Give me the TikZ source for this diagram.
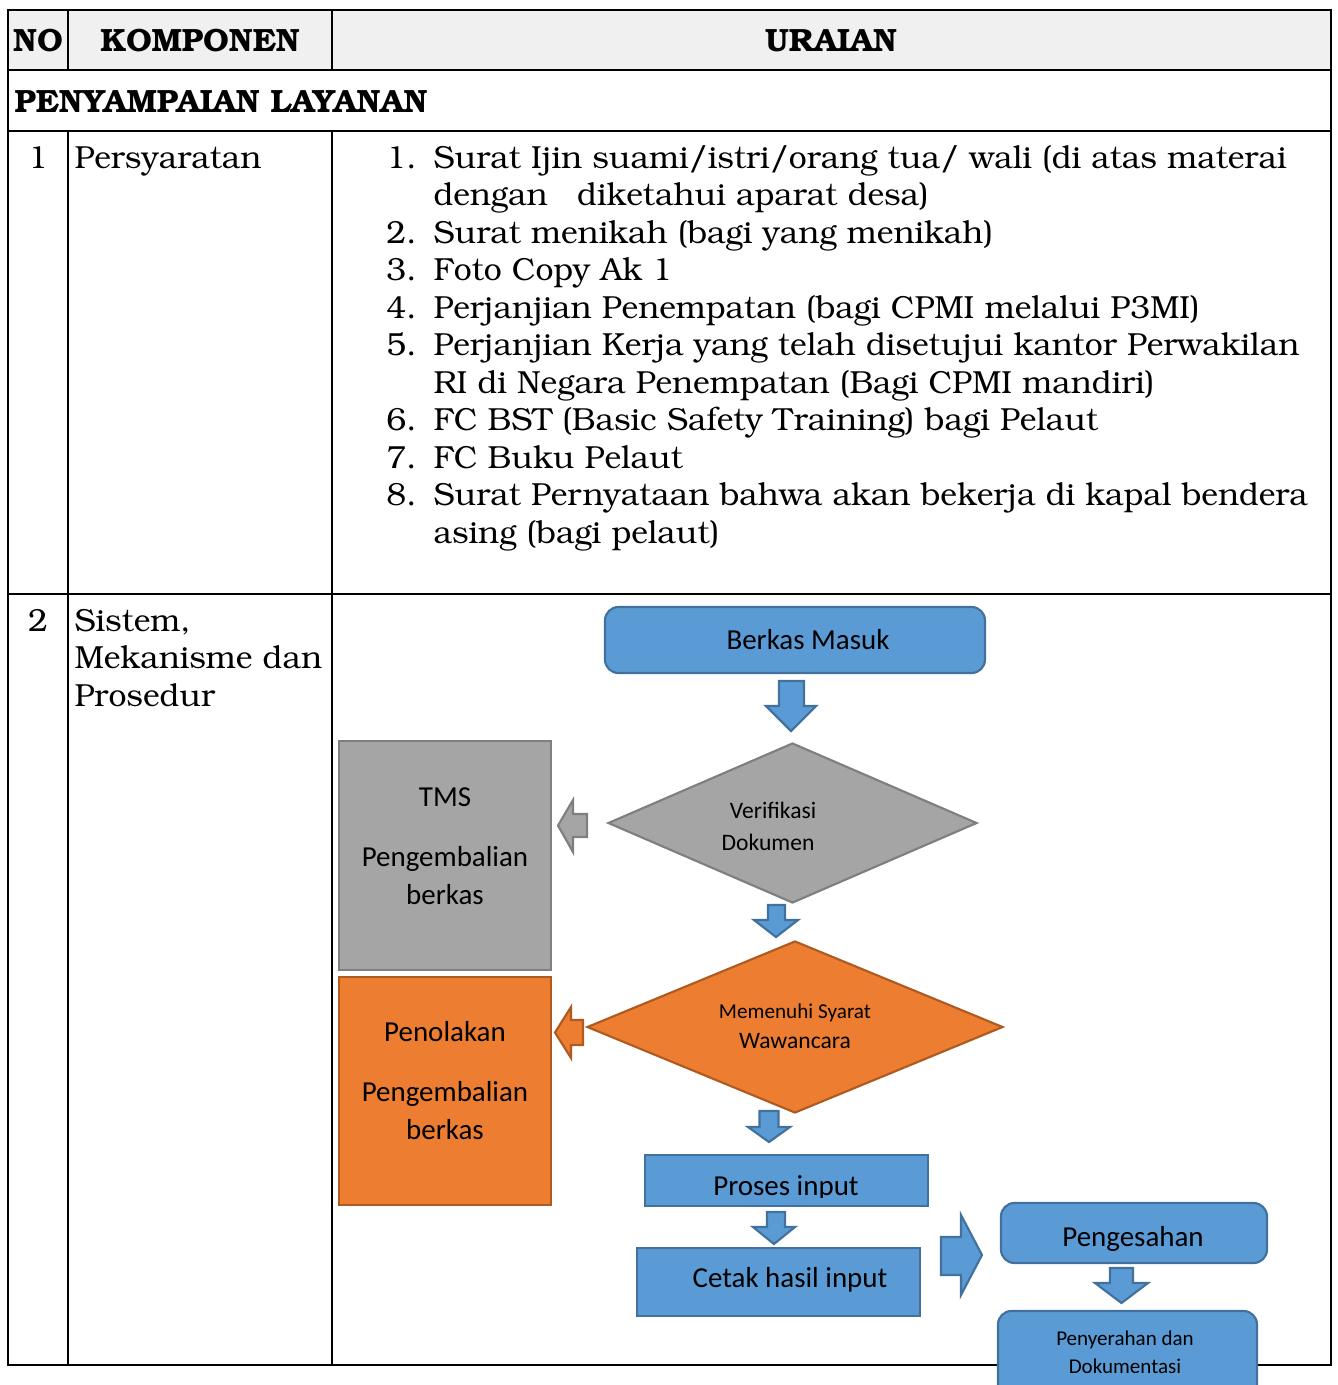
\documentclass[tikz,border=0pt]{standalone}
\usepackage[T1]{fontenc}
\usepackage{fontspec}
\usetikzlibrary{shapes.geometric}
\newfontfamily\carlito{Carlito}
\newcommand\bk{\fontencoding{T1}\fontfamily{pbk}\selectfont}
\newcommand\pxu{0.373pt}
\definecolor{headgray}{HTML}{F0F0F0}
\definecolor{boxblue}{HTML}{5B9BD5}
\definecolor{lineblue}{HTML}{41719C}
\definecolor{boxgray}{HTML}{A5A5A5}
\definecolor{linegray}{HTML}{7F7F7F}
\definecolor{boxorange}{HTML}{ED7D31}
\definecolor{lineorange}{HTML}{AE5A21}
\tikzset{
  tbl/.style={line width=0.8pt},
  txt/.style={inner sep=0pt,font=\bk\fontsize{11.9}{14}\selectfont},
  hd/.style={inner sep=0pt,font=\bk\bfseries\fontsize{12}{14}\selectfont},
  fc/.style={inner sep=0pt,font=\carlito\fontsize{10.8}{14.5}\selectfont,align=center},
  fcsmall/.style={inner sep=0pt,font=\carlito\fontsize{8.8}{12}\selectfont,align=center},
  bluebox/.style={draw=lineblue,fill=boxblue,line width=0.8pt},
  graybox/.style={draw=linegray,fill=boxgray,line width=0.8pt},
  orangebox/.style={draw=lineorange,fill=boxorange,line width=0.8pt},
  barrow/.style={draw=lineblue,fill=boxblue,line width=0.8pt,line join=miter},
  garrow/.style={draw=linegray,fill=boxgray,line width=0.8pt,line join=miter},
  oarrow/.style={draw=lineorange,fill=boxorange,line width=0.8pt,line join=miter},
}
\begin{document}
\begin{tikzpicture}[x=0.373pt,y=-0.373pt]
\useasboundingbox (0,0) rectangle (1338,1385);
% table
\fill[headgray] (8,10) rectangle (1331,70);
\draw[tbl] (8,10) rectangle (1331,1365);
\draw[tbl] (8,70) -- (1331,70);
\draw[tbl] (8,131) -- (1331,131);
\draw[tbl] (8,594) -- (1331,594);
\draw[tbl] (68,10) -- (68,70);
\draw[tbl] (332,10) -- (332,70);
\draw[tbl] (68,131) -- (68,1365);
\draw[tbl] (332,131) -- (332,1365);
\node[hd,anchor=base] (hNo) at (38,51) {NO};
\node[hd,anchor=base] (hKomp) at (200,51) {KOMPONEN};
\node[hd,anchor=base] (hUraian) at (831,51) {URAIAN};
\node[hd,anchor=base west] (sect) at (14,112) {PENYAMPAIAN LAYANAN};
% row 1
\node[txt,anchor=base] (no1) at (38,168) {1};
\node[txt,anchor=base west] (komp1) at (74,168) {Persyaratan};
\node[txt,anchor=base east] (n1) at (417,168) {1.};
\node[txt,anchor=base west] (s1a) at (433,168) {Surat Ijin suami/istri/orang tua/ wali (di atas materai};
\node[txt,anchor=base west] (s1b) at (433,205.5) {dengan\hspace{11pt}diketahui aparat desa)};
\node[txt,anchor=base east] (n2) at (417,243) {2.};
\node[txt,anchor=base west] (s2) at (433,243) {Surat menikah (bagi yang menikah)};
\node[txt,anchor=base east] (n3) at (417,280.5) {3.};
\node[txt,anchor=base west] (s3) at (433,280.5) {Foto Copy Ak 1};
\node[txt,anchor=base east] (n4) at (417,318) {4.};
\node[txt,anchor=base west] (s4) at (433,318) {Perjanjian Penempatan (bagi CPMI melalui P3MI)};
\node[txt,anchor=base east] (n5) at (417,355.5) {5.};
\node[txt,anchor=base west] (s5a) at (433,355.5) {Perjanjian Kerja yang telah disetujui kantor Perwakilan};
\node[txt,anchor=base west] (s5b) at (433,393) {RI di Negara Penempatan (Bagi CPMI mandiri)};
\node[txt,anchor=base east] (n6) at (417,430.5) {6.};
\node[txt,anchor=base west] (s6) at (433,430.5) {FC BST (Basic Safety Training) bagi Pelaut};
\node[txt,anchor=base east] (n7) at (417,468) {7.};
\node[txt,anchor=base west] (s7) at (433,468) {FC Buku Pelaut};
\node[txt,anchor=base east] (n8) at (417,505.5) {8.};
\node[txt,anchor=base west] (s8a) at (433,505.5) {Surat Pernyataan bahwa akan bekerja di kapal bendera};
\node[txt,anchor=base west] (s8b) at (433,543) {asing (bagi pelaut)};
% row 2
\node[txt,anchor=base] (no2) at (38,631) {2};
\node[txt,anchor=base west] (komp2a) at (74,631) {Sistem,};
\node[txt,anchor=base west] (komp2b) at (74,668.5) {Mekanisme dan};
\node[txt,anchor=base west] (komp2c) at (74,706) {Prosedur};
% flowchart
\node[bluebox,rounded corners=5pt,minimum width=380*\pxu,minimum height=66*\pxu] (masuk) at (795,640) {};
\node[fc] (masukT) at (808,640) {Berkas Masuk};
\draw[barrow] (779,681) -- (804,681) -- (804,706) -- (816,706) -- (791,731) -- (766,706) -- (779,706) -- cycle;
\node[diamond,draw=linegray,fill=boxgray,line width=0.8pt,inner sep=0pt,
  minimum width=369*\pxu,minimum height=160*\pxu] (verif) at (792.5,823) {};
\node[fcsmall,anchor=base] (verT1) at (773,818) {Verifikasi};
\node[fcsmall,anchor=base] (verT2) at (768,850) {Dokumen};
\node[graybox,minimum width=212*\pxu,minimum height=229*\pxu] (tms) at (445,855.5) {};
\node[fc,anchor=base] (tmsT1) at (445,806) {TMS};
\node[fc,anchor=base] (tmsT2) at (445,866) {Pengembalian};
\node[fc,anchor=base] (tmsT3) at (445,904) {berkas};
\draw[garrow] (587,814) -- (587,837) -- (573,837) -- (573,852) -- (558,825.5) -- (573,800) -- (573,814) -- cycle;
\draw[barrow] (768,905) -- (785,905) -- (785,920) -- (798,920) -- (776,937) -- (754,920) -- (768,920) -- cycle;
\node[diamond,draw=lineorange,fill=boxorange,line width=0.8pt,inner sep=0pt,
  minimum width=416*\pxu,minimum height=172*\pxu] (syarat) at (795,1027) {};
\node[inner sep=0pt,font=\carlito\fontsize{7.9}{10}\selectfont,anchor=base] (synT1) at (795,1018) {Memenuhi Syarat};
\node[fcsmall,anchor=base] (synT2) at (795,1048) {Wawancara};
\node[orangebox,minimum width=212*\pxu,minimum height=228*\pxu] (tolak) at (445,1091) {};
\node[fc,anchor=base] (tolakT1) at (445,1041) {Penolakan};
\node[fc,anchor=base] (tolakT2) at (445,1101) {Pengembalian};
\node[fc,anchor=base] (tolakT3) at (445,1139) {berkas};
\draw[oarrow] (583,1020) -- (583,1045) -- (571,1045) -- (571,1058) -- (555,1032.5) -- (571,1007) -- (571,1020) -- cycle;
\draw[barrow] (759.5,1111) -- (778.5,1111) -- (778.5,1127) -- (790,1127) -- (769,1142) -- (748,1127) -- (759.5,1127) -- cycle;
\node[bluebox,minimum width=283*\pxu,minimum height=51*\pxu] (input) at (786.5,1180.5) {};
\begin{scope}
\clip (645,1150) rectangle (928,1197);
\node[fc,anchor=base] (inputT) at (786,1195) {Proses input};
\end{scope}
\draw[barrow] (767,1212) -- (785,1212) -- (785,1227) -- (795,1227) -- (774,1244) -- (753,1227) -- (767,1227) -- cycle;
\node[bluebox,minimum width=283*\pxu,minimum height=68*\pxu] (cetak) at (778.5,1282) {};
\node[fc] (cetakT) at (790,1280) {Cetak hasil input};
\draw[barrow] (941,1237) -- (961,1237) -- (961,1215) -- (982,1255) -- (961,1295) -- (961,1275) -- (941,1275) -- cycle;
\node[bluebox,rounded corners=5pt,minimum width=266*\pxu,minimum height=60*\pxu] (sah) at (1134,1233) {};
\node[fc] (sahT) at (1133,1239) {Pengesahan};
\draw[barrow] (1110,1268) -- (1133,1268) -- (1133,1283) -- (1148,1283) -- (1121.5,1303) -- (1095,1283) -- (1110,1283) -- cycle;
\node[bluebox,rounded corners=5pt,minimum width=259*\pxu,minimum height=100*\pxu] (serah) at (1127.5,1361) {};
\node[inner sep=0pt,font=\carlito\fontsize{7.85}{10.4}\selectfont,align=center] (serahT) at (1125,1352) {Penyerahan dan\\Dokumentasi};
\end{tikzpicture}
\end{document}
